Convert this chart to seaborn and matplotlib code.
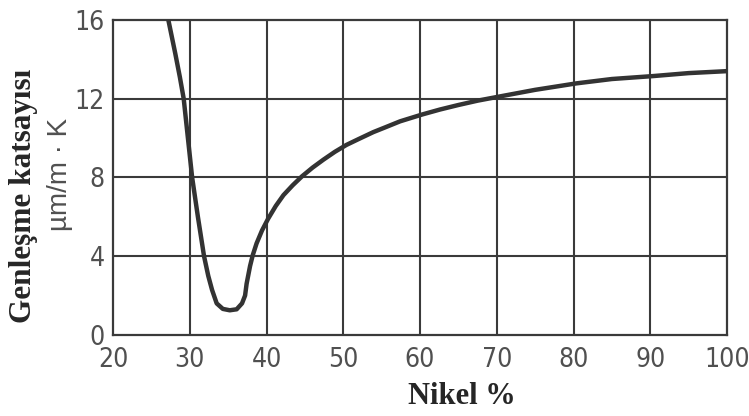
import numpy as np
import pandas as pd
import matplotlib
matplotlib.use("Agg")
import matplotlib.pyplot as plt
import seaborn as sns

# Thermal expansion coefficient vs nickel content
nikel = [27.2, 28.1, 28.7, 29.2, 29.75, 30.3, 31.05, 31.85, 32.4, 32.9, 33.5, 34.3, 35.2,
         36.1, 36.8, 37.2, 37.4, 37.85, 38.2, 38.7, 39.4, 40.2, 41.2, 42.2, 43.4, 44.6,
         46.0, 47.4, 48.9, 50.4, 52.0, 53.9, 55.5, 57.4, 60.3, 62.6, 65.0, 67.5, 70.2,
         75.0, 80.4, 85.0, 90.4, 95.0, 100.0]
genlesme = [16.0, 14.3, 13.1, 12.0, 10.0, 8.0, 6.0, 4.0, 3.0, 2.28, 1.6, 1.32, 1.25,
            1.3, 1.6, 2.0, 2.6, 3.5, 4.05, 4.65, 5.3, 5.9, 6.55, 7.1, 7.6, 8.05,
            8.5, 8.9, 9.3, 9.65, 9.95, 10.3, 10.55, 10.85, 11.2, 11.45, 11.68, 11.9, 12.1,
            12.45, 12.78, 13.0, 13.15, 13.3, 13.4]

x_ticks = [20, 30, 40, 50, 60, 70, 80, 90, 100]
y_ticks = [0, 4, 8, 12, 16]

df = pd.DataFrame({"nikel": nikel, "genlesme": genlesme})

sns.set_style("white")
plt.rcParams['font.family'] = ['DejaVu Sans']
plt.rcParams['font.stretch'] = 'condensed'

fig = plt.figure(figsize=(7.49, 4.16), dpi=100)
ax = fig.add_axes([0.151, 0.195, 0.8196, 0.757])

line_col = "#3a3a3a"
for xv in x_ticks[1:-1]:
    ax.axvline(xv, color=line_col, lw=1.5, zorder=1)
for yv in y_ticks[1:-1]:
    ax.axhline(yv, color=line_col, lw=1.5, zorder=1)

sns.lineplot(data=df, x="nikel", y="genlesme", ax=ax, color="#333333", lw=3.2, zorder=3,
             solid_joinstyle="round", solid_capstyle="round")

ax.set_xlim(20, 100)
ax.set_ylim(0, 16)
ax.set_xticks(x_ticks)
ax.set_yticks(y_ticks)
ax.tick_params(axis="both", length=0, labelsize=19, labelcolor="#505050")
ax.tick_params(axis="x", pad=9)
ax.tick_params(axis="y", pad=6)
for sp in ax.spines.values():
    sp.set_color(line_col)
    sp.set_linewidth(1.6)

ax.set_xlabel("")
ax.set_ylabel("")

fig.text(0.617, 0.012, "Nikel %", family="Liberation Serif", fontweight="bold",
         fontsize=22, ha="center", va="bottom", stretch="normal")
fig.text(0.031, 0.53, "Genleşme katsayısı", family="Liberation Serif", fontweight="bold",
         fontsize=22.5, rotation=90, ha="center", va="center", stretch="normal")
fig.text(0.08, 0.58, "µm/m · K", family=["Liberation Sans", "DejaVu Sans"], color="#505050",
         fontsize=20, rotation=90, ha="center", va="center", stretch="normal")

fig.savefig("out.png", dpi=100)
